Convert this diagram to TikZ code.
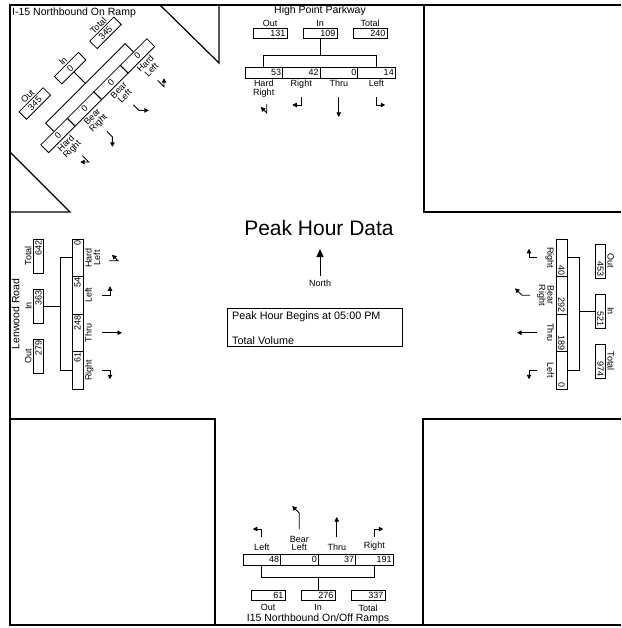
\documentclass[tikz,border=0pt]{standalone}
\usepackage{fontspec}
\setmainfont{Liberation Sans}
\usetikzlibrary{arrows.meta}
\newcommand\apTw{south}
\newcommand\apAw{north}
\newcommand\apdO{22}
\newcommand\apdB{50}
\newcommand\apdS{62}
\newcommand\apdL{75}
\newcommand\apdA{92}
\newcommand\apbo{0}
\newcommand\apal{right}
% approach template: prefix, out, in, total, v1..v4
\newcommand\Ap[8]{%
  \node[lbl,anchor=\apTw] (#1ol) at (-50+\apbo,\apdO) {Out};
  \node[lbl,anchor=\apTw] (#1il) at (\apbo,\apdO) {In};
  \node[lbl,anchor=\apTw] (#1tl) at (50+\apbo,\apdO) {Total};
  \node[vbox,align=\apal] (#1o) at (-50+\apbo,28.5) {#2};
  \node[vbox,align=\apal] (#1i) at (\apbo,28.5) {#3};
  \node[vbox,align=\apal] (#1t) at (50+\apbo,28.5) {#4};
  \coordinate (#1b) at (\apbo,\apdB);
  \coordinate (#1bl) at (-56.25,\apdB);
  \coordinate (#1br) at (56.25,\apdB);
  \node[cell,align=\apal] (#1c1) at (-56.25,\apdS+5.5) {#5};
  \node[cell,align=\apal] (#1c2) at (-18.75,\apdS+5.5) {#6};
  \node[cell,align=\apal] (#1c3) at (18.75,\apdS+5.5) {#7};
  \node[cell,align=\apal] (#1c4) at (56.25,\apdS+5.5) {#8};
  \draw[brk] (#1i.\apTw) -- (#1b);
  \draw[brk] (#1c1.\apAw) -- (#1bl) -- (#1br) -- (#1c4.\apAw);
}
\newcommand\ApL[5]{%
  \node[mlbl,anchor=\apAw] (#1m1) at (-56.25,\apdL) {#2};
  \node[mlbl,anchor=\apAw] (#1m2) at (-18.75,\apdL) {#3};
  \node[mlbl,anchor=\apAw] (#1m3) at (18.75,\apdL) {#4};
  \node[mlbl,anchor=\apAw] (#1m4) at (56.25,\apdL) {#5};
}
\newcommand\ArThru[1]{\draw[ar] (#1,\apdA) -- (#1,\apdA+20);}
\newcommand\ArTurnNeg[1]{\draw[ar] (#1,\apdA) -- (#1,\apdA+8) -- (#1-9,\apdA+8);}
\newcommand\ArTurnPos[1]{\draw[ar] (#1,\apdA) -- (#1,\apdA+8) -- (#1+9,\apdA+8);}
\newcommand\ArHardNeg[1]{\draw[ar] (#1+3,\apdA+7) -- (#1+3,\apdA+16) -- (#1-3,\apdA+10);}
\newcommand\ArHardPos[1]{\draw[ar] (#1-3,\apdA+7) -- (#1-3,\apdA+16) -- (#1+3,\apdA+10);}
\newcommand\ArBearNeg[1]{\draw[ar] (#1,\apdA+7) -- (#1,\apdA+15) -- (#1-7,\apdA+22);}
\newcommand\ArBearPos[1]{\draw[ar] (#1,\apdA+7) -- (#1,\apdA+15) -- (#1+7,\apdA+22);}
\begin{document}
\begin{tikzpicture}[x=1pt,y=-1pt,
  frame/.style={line width=1.8pt},
  blk/.style={line width=1.2pt},
  brk/.style={line width=0.8pt},
  lbl/.style={font=\fontsize{9}{10}\selectfont, inner sep=0.3pt},
  nm/.style={font=\fontsize{10.5}{12}\selectfont, inner sep=0pt},
  mlbl/.style={font=\fontsize{9}{8.5}\selectfont, align=center, inner sep=0pt},
  vbox/.style={draw, line width=0.8pt, font=\fontsize{9}{10}\selectfont, minimum width=34pt, minimum height=10.5pt, inner sep=0pt, text width=31pt},
  cell/.style={draw, line width=0.8pt, font=\fontsize{9}{10}\selectfont, minimum width=37.5pt, minimum height=11pt, inner sep=0pt, text width=35pt},
  ar/.style={line width=0.9pt, -{Triangle[length=4.5pt,width=4.5pt]}},
  nar/.style={line width=1pt, -{Triangle[length=8pt,width=7pt]}},
  ctext/.style={font=\fontsize{10.8}{12}\selectfont, inner sep=0pt}]
\useasboundingbox (0,0) rectangle (621,628);
% frame and corner blocks
\draw[frame] (621,5) -- (10,5) -- (10,625) -- (621,625);
\draw[blk] (424,5) -- (424,212) -- (621,212);
\draw[blk] (423,625) -- (423,419) -- (621,419);
\draw[blk] (10,419) -- (215,419) -- (215,625);
\draw[blk] (160,5) -- (219,63) -- (219,5);
\draw[blk] (10,152) -- (70,212) -- (10,212);
% centre
\node[font=\fontsize{21}{24}\selectfont, inner sep=0pt] (title) at (319,228) {Peak Hour Data};
\node[lbl] (north) at (320,283) {North};
\coordinate (ntip) at (320,249);
\coordinate (nbase) at (320,276);
\draw[nar] (nbase) -- (ntip);
\node[draw, line width=0.8pt, minimum width=175pt, minimum height=38pt, anchor=north west, inner sep=0pt] (pbox) at (227,308) {};
\node[ctext, anchor=west] (pb1) at (232,317) {Peak Hour Begins at 05:00 PM};
\node[ctext, anchor=west] (pb2) at (232,341) {Total Volume};
% top approach
\begin{scope}[shift={(320,5)}]
  \node[nm] (tpn) at (0,5.5) {High Point Parkway};
  \Ap{tp}{131}{109}{240}{53}{42}{0}{14}
  \ApL{tp}{Hard\\Right}{Right}{Thru}{Left}
  \ArHardNeg{-56.25} \ArTurnNeg{-18.75} \ArThru{18.75} \ArTurnPos{56.25}
\end{scope}
% left approach
\begin{scope}[shift={(10,314)}, rotate=90, transform shape]
  \def\apbo{8}
  \node[nm] (lfn) at (0,5.5) {Lenwood Road};
  \Ap{lf}{279}{363}{642}{61}{248}{54}{0}
  \ApL{lf}{Right}{Thru}{Left}{Hard\\Left}
  \ArTurnNeg{-56.25} \ArThru{-18.75} \ArTurnPos{18.75} \ArHardPos{56.25}
\end{scope}
% right approach
\begin{scope}[shift={(629,314)}, rotate=-90, transform shape]
  \def\apbo{-3}
  \Ap{rt}{453}{521}{974}{40}{292}{189}{0}
  \ApL{rt}{Right}{Bear\\Right}{Thru}{Left}
  \ArTurnNeg{-56.25} \ArBearNeg{-18.75} \ArThru{18.75} \ArTurnPos{56.25}
\end{scope}
% diagonal approach
\begin{scope}[shift={(50,48)}, rotate=45, transform shape]
  \def\apal{center}
  \Ap{dg}{345}{0}{345}{0}{0}{0}{0}
  \ApL{dg}{Hard\\Right}{Bear\\Right}{Bear\\Left}{Hard\\Left}
  \ArHardNeg{-56.25} \ArBearNeg{-18.75} \ArBearPos{18.75} \ArHardPos{56.25}
\end{scope}
\node[nm, anchor=west] (dgn) at (12,13) {I-15 Northbound On Ramp};
% bottom approach
\begin{scope}[shift={(318,624)}, y=1pt]
  \def\apTw{north}\def\apAw{south}\def\apdO{20}\def\apdB{47}\def\apdS{59}\def\apdL{73}\def\apdA{87}
  \node[nm] (btn) at (0,5) {I15 Northbound On/Off Ramps};
  \Ap{bt}{61}{276}{337}{48}{0}{37}{191}
  \ApL{bt}{Left}{Bear\\Left}{Thru}{Right}
  \ArTurnNeg{-56.25}
  \draw[ar] (-18.75,95) -- (-18.75,111) -- (-25.75,118);
  \ArThru{18.75}
  \ArTurnPos{56.25}
\end{scope}
\end{tikzpicture}
\end{document}
